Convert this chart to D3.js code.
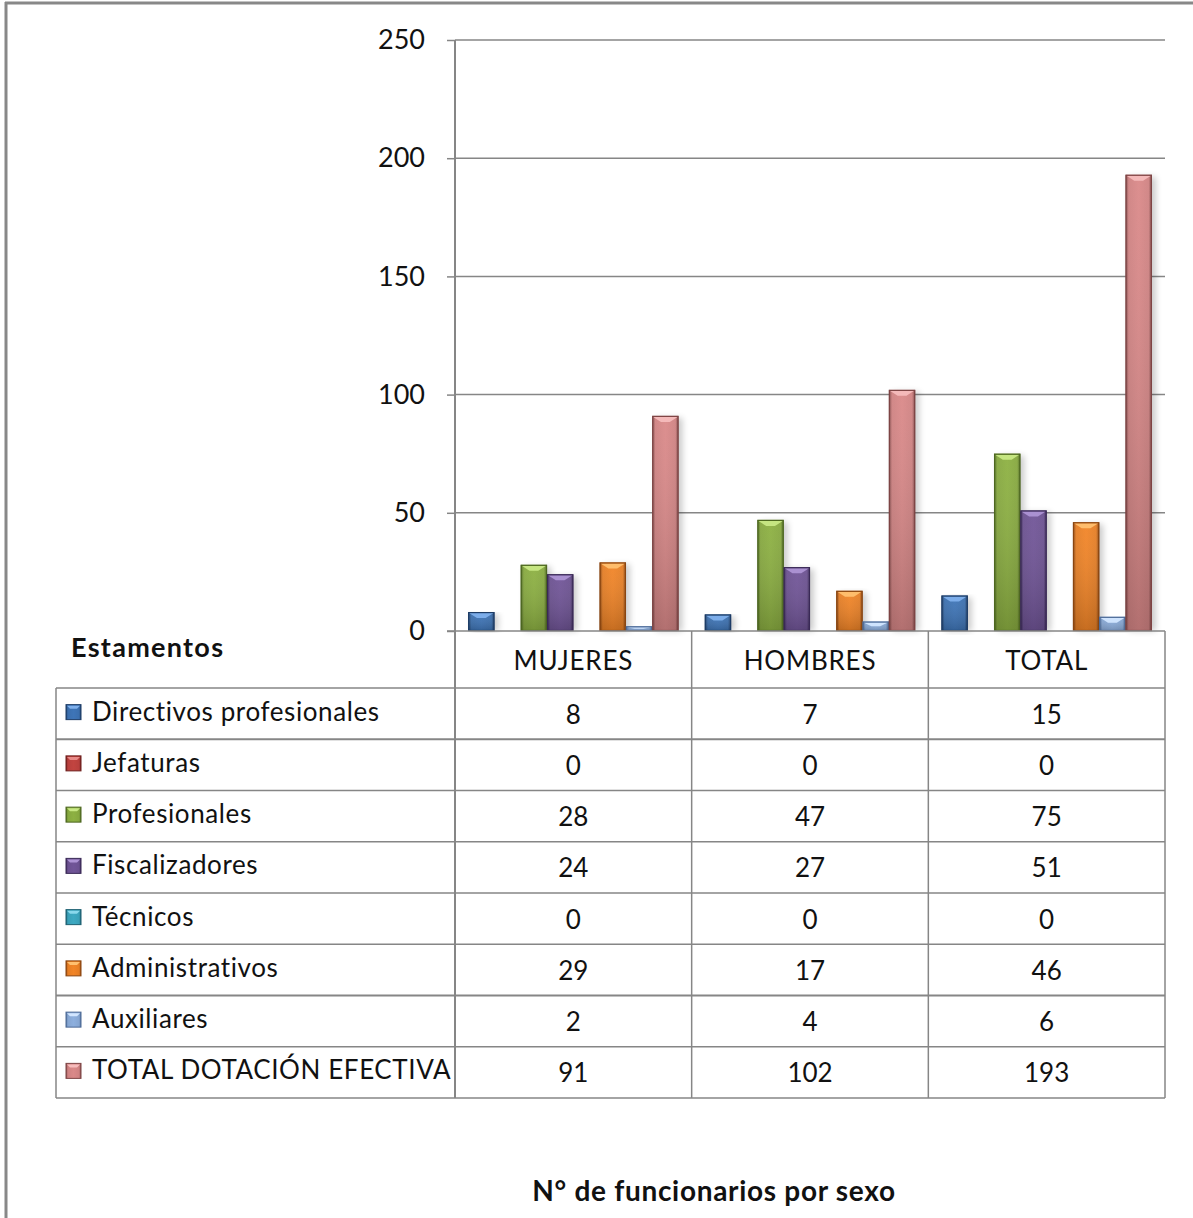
<!DOCTYPE html>
<html><head><meta charset="utf-8">
<script src="https://cdn.jsdelivr.net/npm/d3@7"></script>
<style>
html,body{margin:0;padding:0;background:#fff;}
svg{display:block;font-family:Lato,"Open Sans",sans-serif;}
</style></head>
<body>
<svg id="c" width="1193" height="1218"></svg>
<script>
const groups = ["MUJERES", "HOMBRES", "TOTAL"];
const seriesNames = ["Directivos profesionales","Jefaturas","Profesionales","Fiscalizadores","Técnicos","Administrativos","Auxiliares","TOTAL DOTACIÓN EFECTIVA"];
const directivos = [8, 7, 15];
const jefaturas = [0, 0, 0];
const profesionales = [28, 47, 75];
const fiscalizadores = [24, 27, 51];
const tecnicos = [0, 0, 0];
const administrativos = [29, 17, 46];
const auxiliares = [2, 4, 6];
const totalDotacion = [91, 102, 193];
const yTicks = [0, 50, 100, 150, 200, 250];
const title = "N° de funcionarios por sexo";
const tableHeader = "Estamentos";

const seriesValues = [directivos, jefaturas, profesionales, fiscalizadores, tecnicos, administrativos, auxiliares, totalDotacion];
const colors = [
  {base:"#3b6fae", light:"#7fb0ec", dark:"#1d3c66"},
  {base:"#b8403d", light:"#e88a88", dark:"#6e1f1d"},
  {base:"#86a83f", light:"#c8e884", dark:"#4d6720"},
  {base:"#6b5190", light:"#ad93d4", dark:"#3a2956"},
  {base:"#3aa0b8", light:"#8ad8ec", dark:"#1d5f70"},
  {base:"#e57e25", light:"#ffc070", dark:"#8a4510"},
  {base:"#86a6d2", light:"#d2e6ff", dark:"#4d6a96"},
  {base:"#cf8282", light:"#f6bcbc", dark:"#7d4444"}
];

(function(){
const svg = d3.select("#c");
const grid = "#868686";
const defs = svg.append("defs");
colors.forEach((c,i)=>{
  const g = defs.append("linearGradient").attr("id","g"+i).attr("x1","0").attr("x2","1").attr("y1","0").attr("y2","0");
  g.append("stop").attr("offset","0").attr("stop-color",c.dark);
  g.append("stop").attr("offset","0.12").attr("stop-color",c.base);
  g.append("stop").attr("offset","0.5").attr("stop-color",d3.color(c.base).brighter(0.15));
  g.append("stop").attr("offset","0.88").attr("stop-color",c.base);
  g.append("stop").attr("offset","1").attr("stop-color",c.dark);
  const v = defs.append("linearGradient").attr("id","v"+i).attr("x1","0").attr("x2","0").attr("y1","0").attr("y2","1");
  v.append("stop").attr("offset","0").attr("stop-color","#fff").attr("stop-opacity",0.05);
  v.append("stop").attr("offset","1").attr("stop-color","#000").attr("stop-opacity",0.18);
});
const blur = defs.append("filter").attr("id","sh").attr("x","-50%").attr("y","-10%").attr("width","200%").attr("height","120%");
blur.append("feGaussianBlur").attr("stdDeviation",3);

// outer frame
svg.append("line").attr("x1",5).attr("x2",1193).attr("y1",3).attr("y2",3).attr("stroke","#888").attr("stroke-width",3);
svg.append("line").attr("x1",6).attr("x2",6).attr("y1",2).attr("y2",1218).attr("stroke","#888").attr("stroke-width",3);

const pLeft = 455, pRight = 1165, pTop = 40, pBottom = 631;
const y = d3.scaleLinear().domain([0, 250]).range([pBottom, pTop]);
const x0 = d3.scaleBand().domain(groups).range([pLeft, pRight]).paddingInner(0).paddingOuter(0);
const x1 = d3.scaleBand().domain(d3.range(seriesNames.length)).range([0, x0.bandwidth()]).paddingInner(0).paddingOuter(0.5);

// gridlines + y axis
const yAxis = d3.axisLeft(y).tickValues(yTicks).tickSize(8).tickPadding(22);
const ya = svg.append("g").attr("transform",`translate(${pLeft},0)`).call(yAxis);
ya.select(".domain").remove();
ya.selectAll(".tick line").attr("stroke",grid).attr("stroke-width",1.5);
ya.selectAll(".tick text").attr("font-size",27).attr("fill","#111").attr("font-family","Lato").attr("dy","0.32em");
svg.append("g").selectAll("line").data(yTicks.filter(d=>d>0)).join("line")
  .attr("x1",pLeft).attr("x2",pRight).attr("y1",d=>y(d)).attr("y2",d=>y(d))
  .attr("stroke",grid).attr("stroke-width",1.5);
svg.append("line").attr("x1",pLeft).attr("x2",pLeft).attr("y1",pTop).attr("y2",pBottom).attr("stroke",grid).attr("stroke-width",2);

// bars
const bars = [];
groups.forEach((g,gi)=>seriesValues.forEach((vals,si)=>{ if(vals[gi]>0) bars.push({g,gi,si,v:vals[gi]}); }));
const bg = svg.append("g");
bars.forEach(b=>{
  const c = colors[b.si];
  const bx = x0(b.g) + x1(b.si), w = x1.bandwidth();
  const by = y(b.v), h = pBottom - by;
  const e = bg.append("g");
  e.append("rect").attr("x",bx+4).attr("y",by+2).attr("width",w).attr("height",h-2).attr("fill","#000").attr("opacity",0.2).attr("filter","url(#sh)");
  e.append("rect").attr("x",bx).attr("y",by).attr("width",w).attr("height",h).attr("fill",`url(#g${b.si})`);
  e.append("rect").attr("x",bx).attr("y",by).attr("width",w).attr("height",h).attr("fill",`url(#v${b.si})`);
  const bv = Math.min(6, h/2), bw = Math.min(9, w/3);
  e.append("polygon").attr("points",[[bx+1,by+1],[bx+w-1,by+1],[bx+w-bw,by+bv],[bx+bw,by+bv]].map(p=>p.join(",")).join(" "))
    .attr("fill",c.light).attr("opacity",0.95);
  e.append("rect").attr("x",bx+0.5).attr("y",by+0.5).attr("width",w-1).attr("height",Math.max(0,h-1)).attr("fill","none").attr("stroke",c.dark).attr("stroke-width",1.2);
});

// x axis line
svg.append("line").attr("x1",447).attr("x2",pRight).attr("y1",pBottom).attr("y2",pBottom).attr("stroke",grid).attr("stroke-width",1.5);

// table
const rowTop = 688;
const rowH = (1098 - 688) / seriesNames.length;
const tlx = 56;
const tg = svg.append("g");
d3.range(seriesNames.length + 1).forEach(i=>{
  tg.append("line").attr("x1",tlx).attr("x2",pRight).attr("y1",rowTop+i*rowH).attr("y2",rowTop+i*rowH)
    .attr("stroke",grid).attr("stroke-width",(i===1||i===6)?2:1.5);
});
tg.append("line").attr("x1",tlx).attr("x2",tlx).attr("y1",rowTop).attr("y2",1098).attr("stroke",grid).attr("stroke-width",1.5);
tg.append("line").attr("x1",pLeft).attr("x2",pLeft).attr("y1",pBottom).attr("y2",1098).attr("stroke",grid).attr("stroke-width",2);
groups.forEach(g=>{
  const xr = x0(g) + x0.bandwidth();
  tg.append("line").attr("x1",xr).attr("x2",xr).attr("y1",pBottom).attr("y2",1098).attr("stroke",grid).attr("stroke-width",1.5);
});
tg.selectAll("text.hd").data(groups).join("text").attr("class","hd")
  .attr("x",d=>x0(d)+x0.bandwidth()/2).attr("y",(pBottom+rowTop)/2+10)
  .attr("text-anchor","middle").attr("font-size",26).attr("letter-spacing",0.8).attr("fill","#111").text(d=>d);
tg.append("text").attr("x",71).attr("y",657).attr("font-size",27).attr("letter-spacing",1.3).attr("font-weight","bold").attr("fill","#111").text(tableHeader);
seriesNames.forEach((name,si)=>{
  const cy = rowTop + si*rowH + rowH/2;
  const c = colors[si];
  const mx = 66, my = cy - 9, ms = 15;
  tg.append("rect").attr("x",mx).attr("y",my).attr("width",ms).attr("height",ms).attr("fill",`url(#g${si})`).attr("stroke",c.dark).attr("stroke-width",1);
  tg.append("polygon").attr("points",[[mx+1,my+1],[mx+ms-1,my+1],[mx+ms-4,my+4],[mx+4,my+4]].map(p=>p.join(",")).join(" ")).attr("fill",c.light);
  tg.append("text").attr("x",92).attr("y",cy+7).attr("font-size",26).attr("letter-spacing",0.6).attr("fill","#111").text(name);
  groups.forEach((g,gi)=>{
    tg.append("text").attr("x",x0(g)+x0.bandwidth()/2).attr("y",cy+10).attr("text-anchor","middle")
      .attr("font-size",26).attr("fill","#111").text(seriesValues[si][gi]);
  });
});

svg.append("text").attr("x",714).attr("y",1201).attr("text-anchor","middle").attr("font-size",28).attr("letter-spacing",0.7).attr("font-weight","bold").attr("fill","#111").text(title);
})();
</script>
</body></html>
